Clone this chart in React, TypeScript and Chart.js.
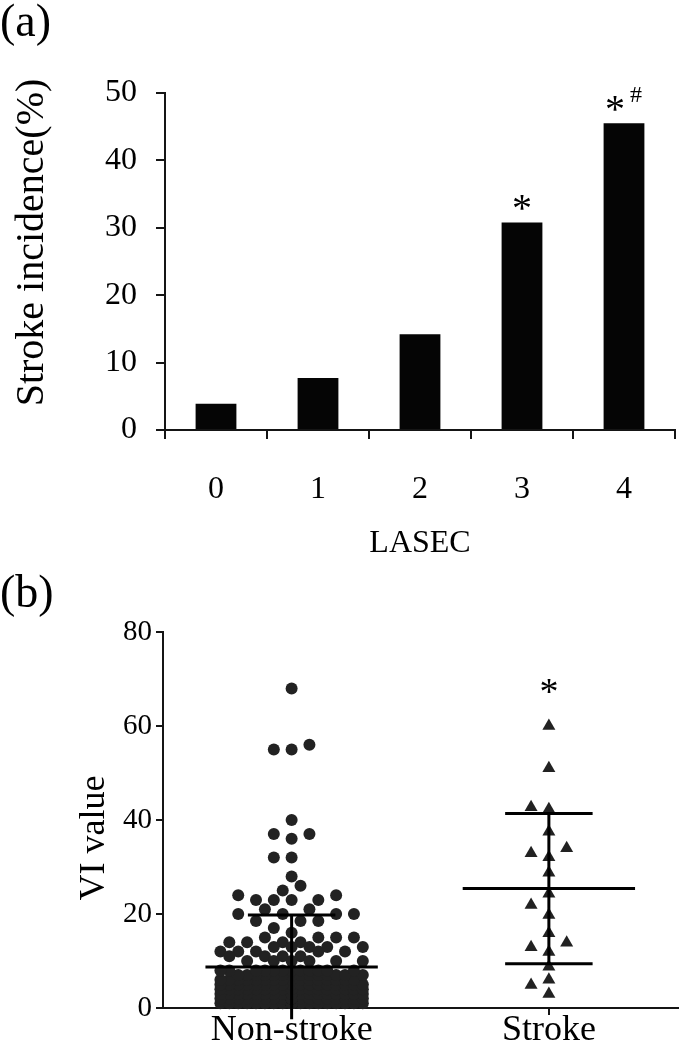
import React, { useEffect, useRef } from 'react';
import { Chart, registerables } from 'chart.js';

Chart.register(...registerables);

const SERIF = '"Liberation Serif", "Times New Roman", Times, serif';
const INK = '#000000';
const AXIS = '#151515';
const DOT = '#222222';

// ---------- Panel (a): stroke incidence by LASEC grade ----------
const lasecCategories = ['0', '1', '2', '3', '4'];
const strokeIncidencePct = [3.9, 7.7, 14.2, 30.8, 45.5];
const incidenceTicks = [0, 10, 20, 30, 40, 50];
const starBarIndices = [3, 4];
const hashBarIndices = [4];

// ---------- Panel (b): VI value by group ----------
const groupCategories = ['Non-stroke', 'Stroke'];
const viTicks = [0, 20, 40, 60, 80];
const nonStrokeUpperValues = [
  68, 56, 55, 55, 40, 37, 37, 36, 32, 32, 28, 26, 25, 24, 24, 23, 23, 23, 23,
  21, 21, 20, 20, 20, 20, 18.5, 18.5, 18.5, 17, 16, 15, 15, 15, 15, 14, 14, 14, 14,
  13, 13, 13, 13, 13, 12, 12, 12, 12, 12, 11, 11, 11, 11, 10, 10, 10, 10, 10, 10,
];
// dense lower part of the non-stroke swarm: value level -> number of patients
const nonStrokeLowLevels = [1, 2, 3, 4, 5, 6, 7, 8];
const nonStrokeLowCounts = [24, 22, 20, 18, 17, 16, 14, 12];
const strokeValues = [
  60, 51, 42.3, 42.7, 37.5, 34, 32.1, 32.9, 28.8, 24.3, 21.9, 19.8, 15.9, 11.9,
  12.9, 13.9, 8.8, 6, 4.9, 3,
];
const groupMean = [8.7, 25.4];
const groupSD = [11.1, 16.0];
const starGroupIndices = [1];
const starGroupValue = 69;

// ---------- style constants ----------
const SWARM_COL_PX = 18;
const SWARM_COL_X = 0.0692; // x-units per swarm column
const Y_PX_PER_UNIT = 376 / 80;
const DOT_DIAM_PX = 12;
const MEAN_HALF = 0.335;
const SD_HALF = 0.17;

function swarmOffsets(values: number[], step: number, maxOffset: number): number[] {
  const cands: number[] = [0];
  for (let k = step; k <= maxOffset + 1e-9; k += step) cands.push(-k, k);
  const order = values.map((_, i) => i).sort((a, b) => values[a] - values[b]);
  const placed: { c: number; v: number }[] = [];
  const res: number[] = new Array(values.length).fill(0);
  for (const i of order) {
    const v = values[i];
    let chosen = 0;
    let bestClear = -1;
    for (const c of cands) {
      let clear = Infinity;
      for (const p of placed) {
        const d = Math.hypot((p.c - c) * SWARM_COL_PX, (p.v - v) * Y_PX_PER_UNIT);
        if (d < clear) clear = d;
      }
      if (clear >= DOT_DIAM_PX) {
        chosen = c;
        break;
      }
      if (clear > bestClear + 0.01) {
        bestClear = clear;
        chosen = c;
      }
    }
    placed.push({ c: chosen, v });
    res[i] = chosen;
  }
  return res;
}

function text(ctx: CanvasRenderingContext2D, s: string, x: number, y: number, size: number, align: CanvasTextAlign = 'center', baseline: CanvasTextBaseline = 'alphabetic', rot = 0) {
  ctx.save();
  ctx.font = `${size}px ${SERIF}`;
  ctx.fillStyle = INK;
  ctx.textAlign = align;
  ctx.textBaseline = baseline;
  ctx.translate(x, y);
  if (rot) ctx.rotate(rot);
  ctx.fillText(s, 0, 0);
  ctx.restore();
}

export default function App() {
  const refA = useRef<HTMLCanvasElement>(null);
  const refB = useRef<HTMLCanvasElement>(null);

  useEffect(() => {
    document.body.style.margin = '0';

    const axisGrid = (tickLength: number) => ({
      drawOnChartArea: false,
      drawTicks: true,
      tickLength,
      color: AXIS,
      lineWidth: 2,
    });
    const border = { display: true, color: AXIS, width: 2 };

    // ---------------- Chart A ----------------
    const annotateA = {
      id: 'annotateA',
      afterDraw(chart: any) {
        const { ctx, scales, chartArea } = chart;
        const x = scales.x;
        const y = scales.y;
        text(ctx, '(a)', 0, 36, 46, 'left');
        text(ctx, 'Stroke incidence(%)', 32, (chartArea.top + chartArea.bottom) / 2 - 19, 40, 'center', 'middle', -Math.PI / 2);
        starBarIndices.forEach((i) => {
          const cx = x.getPixelForValue(i);
          const top = y.getPixelForValue(strokeIncidencePct[i]);
          const hasHash = hashBarIndices.includes(i);
          text(ctx, '*', hasHash ? cx - 9 : cx, top - 1, 40);
        });
        hashBarIndices.forEach((i) => {
          const cx = x.getPixelForValue(i);
          const top = y.getPixelForValue(strokeIncidencePct[i]);
          text(ctx, '#', cx + 12, top - 21, 24);
        });
      },
    };

    const chartA = new Chart(refA.current as HTMLCanvasElement, {
      type: 'bar',
      data: {
        labels: lasecCategories,
        datasets: [
          {
            data: strokeIncidencePct,
            backgroundColor: '#050505',
            borderWidth: 0,
            barPercentage: 0.4,
            categoryPercentage: 1,
          },
        ],
      },
      options: {
        animation: false,
        responsive: false,
        events: [],
        layout: { padding: { top: 93, right: 10, left: 0, bottom: 0 } },
        plugins: { legend: { display: false }, tooltip: { enabled: false } },
        scales: {
          x: {
            grid: { ...axisGrid(9), offset: true },
            border,
            ticks: { font: { family: SERIF, size: 32 }, color: INK, padding: 31, maxRotation: 0 },
            title: {
              display: true,
              text: 'LASEC',
              font: { family: SERIF, size: 32, lineHeight: 1 },
              color: INK,
              padding: { top: 0, bottom: 0 },
            },
            afterFit: (s: any) => {
              s.height = 130;
            },
          },
          y: {
            min: 0,
            max: 50,
            afterBuildTicks: (s: any) => {
              s.ticks = incidenceTicks.map((v) => ({ value: v }));
            },
            grid: axisGrid(9),
            border,
            ticks: { font: { family: SERIF, size: 32 }, color: INK, padding: 19 },
            afterFit: (s: any) => {
              s.width = 165;
            },
          },
        },
      },
      plugins: [annotateA],
    } as any);

    // ---------------- Chart B ----------------
    const nonStrokeValues = nonStrokeUpperValues.concat(
      ...nonStrokeLowLevels.map((v, i) => new Array(nonStrokeLowCounts[i]).fill(v))
    );
    const offNS = swarmOffsets(nonStrokeValues, 0.5, 4);
    const offS = swarmOffsets(strokeValues, 1, 1);
    const nonStrokePts = nonStrokeValues.map((v, i) => ({ x: 0 + offNS[i] * SWARM_COL_X, y: v }));
    const strokePts = strokeValues.map((v, i) => ({ x: 1 + offS[i] * SWARM_COL_X, y: v }));

    const meanSd = {
      id: 'meanSd',
      afterDatasetsDraw(chart: any) {
        const { ctx, scales } = chart;
        const x = scales.x;
        const y = scales.y;
        ctx.save();
        ctx.strokeStyle = INK;
        ctx.lineWidth = 3;
        groupMean.forEach((m, i) => {
          const sd = groupSD[i];
          const cx = x.getPixelForValue(i);
          const yM = y.getPixelForValue(m);
          const yU = y.getPixelForValue(m + sd);
          const yL = y.getPixelForValue(m - sd);
          ctx.beginPath();
          ctx.moveTo(x.getPixelForValue(i - MEAN_HALF), yM);
          ctx.lineTo(x.getPixelForValue(i + MEAN_HALF), yM);
          ctx.moveTo(cx, yU);
          ctx.lineTo(cx, yL);
          ctx.moveTo(x.getPixelForValue(i - SD_HALF), yU);
          ctx.lineTo(x.getPixelForValue(i + SD_HALF), yU);
          if (m - sd >= 0) {
            ctx.moveTo(x.getPixelForValue(i - SD_HALF), yL);
            ctx.lineTo(x.getPixelForValue(i + SD_HALF), yL);
          }
          ctx.stroke();
        });
        ctx.restore();
      },
      afterDraw(chart: any) {
        const { ctx, scales, chartArea } = chart;
        text(ctx, '(b)', 0, 47, 46, 'left');
        text(ctx, 'VI value', 95, (chartArea.top + chartArea.bottom) / 2 + 18, 36, 'center', 'middle', -Math.PI / 2);
        starGroupIndices.forEach((i) => {
          text(ctx, '*', scales.x.getPixelForValue(i), scales.y.getPixelForValue(starGroupValue) + 20, 38, 'center', 'alphabetic');
        });
      },
    };

    const chartB = new Chart(refB.current as HTMLCanvasElement, {
      type: 'scatter',
      data: {
        datasets: [
          {
            label: groupCategories[0],
            data: nonStrokePts,
            pointStyle: 'circle',
            pointRadius: 6,
            backgroundColor: DOT,
            borderWidth: 0,
            clip: false,
          },
          {
            label: groupCategories[1],
            data: strokePts,
            pointStyle: 'triangle',
            pointRadius: 7.5,
            backgroundColor: DOT,
            borderWidth: 0,
            clip: false,
          },
        ],
      },
      options: {
        animation: false,
        responsive: false,
        events: [],
        layout: { padding: { top: 72, right: 2, left: 0, bottom: 0 } },
        plugins: { legend: { display: false }, tooltip: { enabled: false } },
        scales: {
          x: {
            type: 'linear',
            min: -0.5,
            max: 1.5,
            afterBuildTicks: (s: any) => {
              s.ticks = groupCategories.map((_, i) => ({ value: i }));
            },
            grid: axisGrid(7),
            border,
            ticks: {
              font: { family: SERIF, size: 36, lineHeight: 1 },
              color: INK,
              padding: -2,
              maxRotation: 0,
              autoSkip: false,
              callback: (_v: any, i: number) => groupCategories[i],
            },
            afterFit: (s: any) => {
              s.height = 42;
            },
          },
          y: {
            min: 0,
            max: 80,
            afterBuildTicks: (s: any) => {
              s.ticks = viTicks.map((v) => ({ value: v }));
            },
            grid: axisGrid(7),
            border,
            ticks: { font: { family: SERIF, size: 29 }, color: INK, padding: 4 },
            afterFit: (s: any) => {
              s.width = 163;
            },
          },
        },
      },
      plugins: [meanSd],
    } as any);

    return () => {
      chartA.destroy();
      chartB.destroy();
    };
  }, []);

  return (
    <div style={{ width: 685, height: 1050, background: '#ffffff' }}>
      <canvas ref={refA} width={685} height={560} style={{ display: 'block' }} />
      <canvas ref={refB} width={685} height={490} style={{ display: 'block' }} />
    </div>
  );
}
